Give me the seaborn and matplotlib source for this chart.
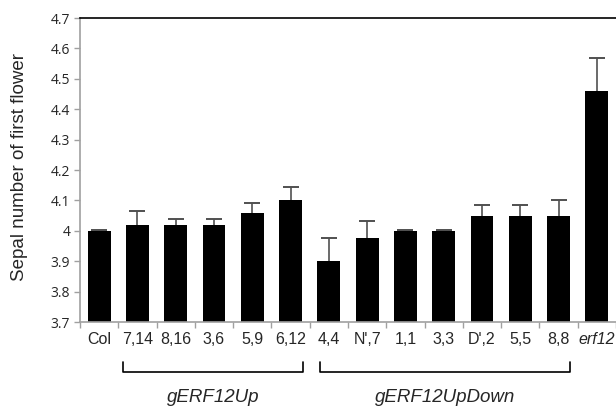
import matplotlib
matplotlib.use("Agg")
import matplotlib.pyplot as plt
import matplotlib.transforms as mtransforms
import seaborn as sns
import pandas as pd
import numpy as np

# values
lines = ["Col", "7,14", "8,16", "3,6", "5,9", "6,12", "4,4", "N',7",
         "1,1", "3,3", "D',2", "5,5", "8,8", "erf12"]
sepals = [4.00, 4.02, 4.02, 4.02, 4.06, 4.10, 3.90, 3.975,
          4.00, 4.00, 4.05, 4.05, 4.05, 4.46]
upper_err = [0.002, 0.045, 0.02, 0.02, 0.033, 0.043, 0.075, 0.056,
             0.002, 0.002, 0.036, 0.036, 0.05, 0.108]
groups = ["gERF12Up", "gERF12UpDown"]
group_first = [1, 6]
group_last = [5, 12]

df = pd.DataFrame({"line": lines, "sepals": sepals})

sns.set_style("white")
plt.rcParams["font.family"] = ["Liberation Sans", "DejaVu Sans"]

fig = plt.figure(figsize=(6.16, 4.08), dpi=100)
ax = fig.add_axes([80 / 616, 1 - 322 / 408, 536 / 616, 304 / 408])

sns.barplot(data=df, x="line", y="sepals", color="black", width=0.6,
            errorbar=None, saturation=1, ax=ax, zorder=2)
for p in ax.patches:
    p.set_edgecolor("none")

# symmetric error bars drawn behind the bars, so only the upper half shows
xpos = np.arange(len(lines))
_, caps, _ = ax.errorbar(xpos, sepals, yerr=upper_err, fmt="none",
                         ecolor="#505050", elinewidth=1.2, capsize=5.5,
                         capthick=1.4, zorder=1)
for c in caps:
    c.set_color("black")

ax.set_ylim(3.7, 4.7)
ax.set_xlim(-0.5, len(lines) - 0.5)
yt = np.round(np.arange(3.7, 4.71, 0.1), 1)
ax.set_yticks(yt)
ax.set_yticklabels([("%g" % v) for v in yt], fontfamily="Open Sans", fontsize=10)
ax.set_ylabel("Sepal number of first flower", fontsize=13.5)
ax.yaxis.set_label_coords(-0.097, 0.51)
ax.set_xlabel("")

ax.set_xticks(xpos)
ax.set_xticklabels(lines, fontsize=11.5)
ax.get_xticklabels()[-1].set_fontstyle("italic")
ax.set_xticks(np.arange(len(lines) + 1) - 0.5, minor=True)
ax.tick_params(axis="x", which="major", length=0, pad=7)
ax.tick_params(axis="x", which="minor", length=4, width=1, color="#a0a0a0",
               direction="out", bottom=True)
ax.tick_params(axis="y", length=4, width=1, color="#a0a0a0", direction="out",
               left=True, pad=3)

for side in ["left", "bottom"]:
    ax.spines[side].set_color("#a0a0a0")
    ax.spines[side].set_linewidth(1.2)
ax.spines["top"].set_color("black")
ax.spines["top"].set_linewidth(1.2)
ax.spines["right"].set_visible(False)

trans = mtransforms.blended_transform_factory(ax.transData, ax.transAxes)
offsets = [(-0.37, 0.32), (-0.24, 0.31)]
for name, a, b, (oa, ob) in zip(groups, group_first, group_last, offsets):
    x0, x1 = a + oa, b + ob
    ax.plot([x0, x0, x1, x1], [-0.132, -0.165, -0.165, -0.132], color="black",
            lw=1.2, transform=trans, clip_on=False)
    ax.text((x0 + x1) / 2, -0.247, name, transform=trans, ha="center",
            va="center", fontsize=13.5, fontstyle="italic")

fig.savefig("out.png", dpi=100)
